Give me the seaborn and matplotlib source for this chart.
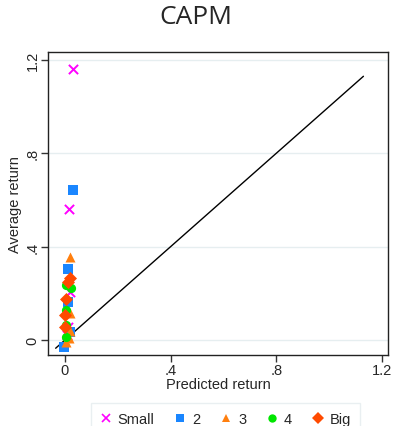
import numpy as np
import pandas as pd
import matplotlib
matplotlib.use("Agg")
import matplotlib.pyplot as plt
import seaborn as sns
from matplotlib.lines import Line2D

# ---- data ----
groups = ["Small", "2", "3", "4", "Big"]
pred_small = [0.031, 0.015, 0.018, 0.012, 0.008]
avg_small = [1.162, 0.563, 0.205, 0.058, 0.020]
pred_2 = [0.031, 0.010, 0.010, 0.020, -0.002]
avg_2 = [0.643, 0.304, 0.164, 0.036, -0.031]
pred_3 = [0.020, 0.019, 0.018, 0.016, 0.006]
avg_3 = [0.356, 0.116, 0.040, 0.010, -0.010]
pred_4 = [0.006, 0.023, 0.005, 0.004, 0.003]
avg_4 = [0.235, 0.221, 0.130, 0.064, 0.011]
pred_big = [0.020, 0.013, 0.003, 0.001, 0.000]
avg_big = [0.267, 0.247, 0.178, 0.107, 0.054]
line_ends = [-0.035, 1.13]
tick_vals = [0, 0.4, 0.8, 1.2]
tick_labels = ["0", ".4", ".8", "1.2"]

preds = [pred_small, pred_2, pred_3, pred_4, pred_big]
avgs = [avg_small, avg_2, avg_3, avg_4, avg_big]
rows = []
for g, p, a in zip(groups, preds, avgs):
    for pi, ai in zip(p, a):
        rows.append({"group": g, "pred": pi, "avg": ai})
df = pd.DataFrame(rows)

colors = {"Small": "#ff00ff", "2": "#1a86ff", "3": "#ff7f0e", "4": "#00e600", "Big": "#ff4a00"}
markers = {"Small": "x", "2": "s", "3": "^", "4": "o", "Big": "D"}
sizes = {"Small": 44, "2": 44, "3": 52, "4": 44, "Big": 44}

sns.set_style("white")
plt.rcParams["font.family"] = ["Liberation Sans", "DejaVu Sans"]

fig = plt.figure(figsize=(3.93, 4.27), dpi=100)
ax = fig.add_axes([48/393, 1-356/427, (388-48)/393, (356-53)/427])

for y in tick_vals:
    ax.axhline(y, color="#e6eef0", lw=1.0, zorder=0)

ax.plot(line_ends, line_ends, color="black", lw=1.0, zorder=1)

for g in groups:
    sub = df[df.group == g]
    kw = dict(linewidth=1.4) if g == "Small" else dict(linewidth=0)
    sns.scatterplot(data=sub, x="pred", y="avg", color=colors[g], marker=markers[g],
                    s=sizes[g], ax=ax, legend=False, zorder=3, **kw)

ax.set_xlim(-0.064, 1.223)
ax.set_ylim(-0.064, 1.234)
ax.set_xticks(tick_vals)
ax.set_xticklabels(tick_labels)
ax.set_yticks(tick_vals)
ax.set_yticklabels(tick_labels, rotation=90, va="center")
ax.tick_params(axis="both", direction="out", length=5, width=1, color="#333333",
               labelsize=10.5, pad=1, left=True, bottom=True)
for s in ax.spines.values():
    s.set_color("#222222")
    s.set_linewidth(1.0)
ax.set_xlabel("Predicted return", fontsize=10.5)
ax.set_ylabel("Average return", fontsize=10.5)
ax.xaxis.set_label_coords(0.5, -(378 - 356) / 303)
ax.yaxis.set_label_coords(-(48 - 22) / 340, 0.5)

fig.text(196/393, 1-18/427, "CAPM", ha="center", va="center", fontsize=19,
         family=["Open Sans", "DejaVu Sans"])

handles = [Line2D([], [], linestyle="none", marker=markers[g], color=colors[g],
                  markersize=6, markeredgewidth=1.2 if g == "Small" else 0)
           for g in groups]
leg = fig.legend(handles, groups, ncol=5, loc="upper left",
                 bbox_to_anchor=(91/393, 1-404/427), frameon=True, fontsize=10.5,
                 handlelength=0.8, handletextpad=0.4, columnspacing=1.4, borderpad=0.6,
                 borderaxespad=0, fancybox=False)
leg.get_frame().set_edgecolor("#e4ecee")
leg.get_frame().set_linewidth(1.0)

fig.savefig("out.png", dpi=100)
